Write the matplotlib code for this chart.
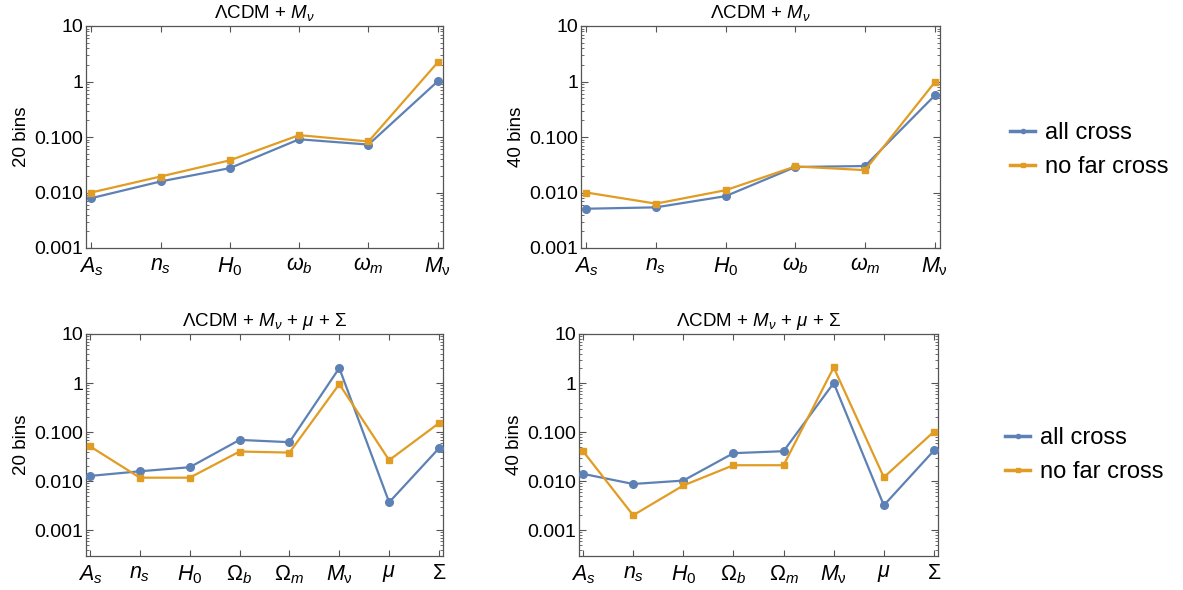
import matplotlib
matplotlib.use("Agg")
import matplotlib.pyplot as plt
from matplotlib.lines import Line2D
import numpy as np

plt.rcParams['font.family'] = ['Liberation Sans', 'DejaVu Sans']
plt.rcParams['mathtext.fontset'] = 'custom'
plt.rcParams['mathtext.rm'] = 'Liberation Sans'
plt.rcParams['mathtext.it'] = 'Liberation Sans:italic'
plt.rcParams['mathtext.bf'] = 'Liberation Sans:bold'

# ---- data ----
labels_top = [r'$A_s$', r'$n_s$', r'$H_0$', r'$\omega_b$', r'$\omega_m$', r'$M_\mathrm{\nu}$']
labels_bot = [r'$A_s$', r'$n_s$', r'$H_0$', r'$\Omega_b$', r'$\Omega_m$', r'$M_\mathrm{\nu}$', r'$\mu$', r'$\Sigma$']

title_top = r'$\Lambda\mathrm{CDM}$ + $M_\nu$'
title_bot = r'$\Lambda\mathrm{CDM}$ + $M_\nu$ + $\mu$ + $\Sigma$'

tl_all = [0.0079, 0.0158, 0.0275, 0.091, 0.073, 1.01]
tl_nofar = [0.0100, 0.0194, 0.038, 0.108, 0.083, 2.22]

tr_all = [0.0051, 0.0054, 0.0086, 0.0288, 0.030, 0.56]
tr_nofar = [0.0100, 0.0063, 0.0110, 0.0295, 0.0253, 0.97]

bl_all = [0.0127, 0.0158, 0.0191, 0.069, 0.062, 2.02, 0.00368, 0.0467]
bl_nofar = [0.051, 0.0117, 0.0117, 0.040, 0.038, 0.95, 0.0266, 0.152]

br_all = [0.0140, 0.0087, 0.0102, 0.037, 0.0406, 1.00, 0.00319, 0.042]
br_nofar = [0.0406, 0.0020, 0.0081, 0.021, 0.021, 2.08, 0.0119, 0.102]

ylabels = ['20 bins', '40 bins', '20 bins', '40 bins']
yticks = [0.001, 0.01, 0.1, 1, 10]
ytick_labels = ['0.001', '0.010', '0.100', '1', '10']
series_names = ['all cross', 'no far cross']

BLUE = '#5E81B5'
ORANGE = '#E19C24'
FRAME = '#555555'

fig = plt.figure(figsize=(11.83, 5.90), dpi=100)

W = 1183.0
H = 590.0
def rect(x0, y0, x1, y1):
    return [x0 / W, 1 - y1 / H, (x1 - x0) / W, (y1 - y0) / H]

rects = [rect(86, 26, 443, 248), rect(581, 26, 940, 248),
         rect(86, 334, 443, 556), rect(579, 334, 938, 556)]
panels = [(tl_all, tl_nofar, labels_top, title_top, 0.001),
          (tr_all, tr_nofar, labels_top, title_top, 0.001),
          (bl_all, bl_nofar, labels_bot, title_bot, 0.000295),
          (br_all, br_nofar, labels_bot, title_bot, 0.000295)]

for i, (r, (a, b, labs, title, ymin)) in enumerate(zip(rects, panels)):
    ax = fig.add_axes(r)
    x = np.arange(len(labs))
    ax.plot(x, a, color=BLUE, lw=1.6, marker='o', ms=5.5, zorder=3)
    ax.plot(x, b, color=ORANGE, lw=1.6, marker='s', ms=4, zorder=3)
    ax.set_yscale('log')
    ax.set_ylim(ymin, 10)
    pad = 0.08 if len(labs) == 8 else 0.075
    ax.set_xlim(-pad, len(labs) - 1 + pad)
    ax.set_yticks(yticks)
    ax.set_yticklabels(ytick_labels)
    ax.set_xticks(x)
    ax.set_xticklabels(labs)
    ax.tick_params(axis='both', which='both', direction='in', top=True, right=True,
                   colors=FRAME, labelcolor='black')
    ax.tick_params(axis='y', which='major', length=5, width=0.8, labelsize=14, pad=2)
    ax.tick_params(axis='y', which='minor', length=2.5, width=0.6)
    ax.tick_params(axis='x', which='major', length=4, width=0.8, labelsize=15.5, pad=5)
    ax.set_ylabel(ylabels[i], fontsize=13.5, labelpad=3)
    ax.set_title(title, fontsize=13.5, pad=6)
    for s in ax.spines.values():
        s.set_color(FRAME)
        s.set_linewidth(0.9)

handles = [Line2D([0], [0], color=BLUE, lw=2.5, marker='o', ms=3),
           Line2D([0], [0], color=ORANGE, lw=2.5, marker='s', ms=2.5)]
fig.legend(handles, series_names, loc='center left', bbox_to_anchor=(989 / W, 1 - 150 / H),
           frameon=False, fontsize=17, handlelength=1.05, handletextpad=0.42, labelspacing=0.5)
fig.legend(handles, series_names, loc='center left', bbox_to_anchor=(984 / W, 1 - 455 / H),
           frameon=False, fontsize=17, handlelength=1.05, handletextpad=0.42, labelspacing=0.5)

fig.savefig('out.png', dpi=100)
